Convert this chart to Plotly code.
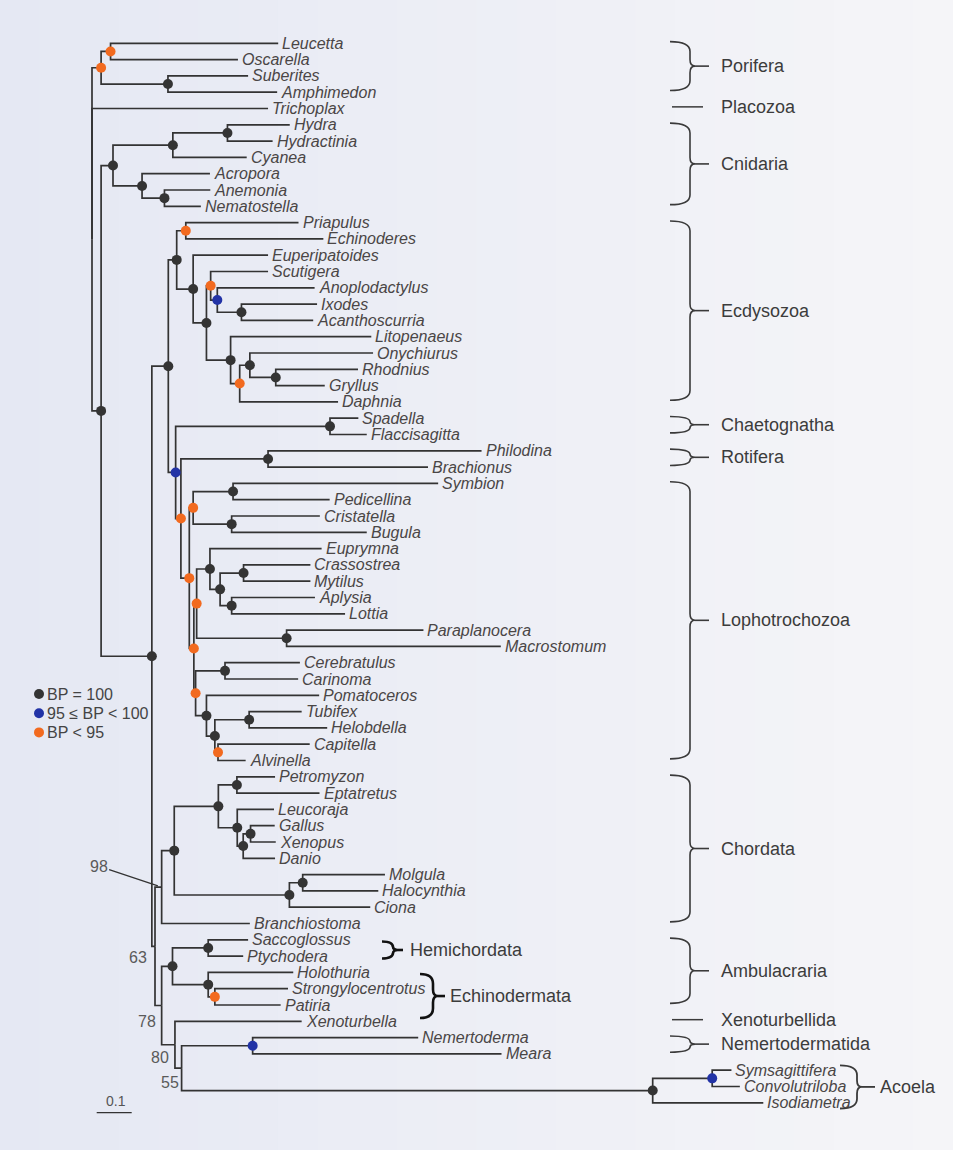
import plotly.graph_objects as go

# ------------------------------------------------------------------ data
# leaves, top to bottom
taxa = ["Leucetta", "Oscarella", "Suberites", "Amphimedon", "Trichoplax",
        "Hydra", "Hydractinia", "Cyanea", "Acropora", "Anemonia", "Nematostella",
        "Priapulus", "Echinoderes", "Euperipatoides", "Scutigera", "Anoplodactylus",
        "Ixodes", "Acanthoscurria", "Litopenaeus", "Onychiurus", "Rhodnius",
        "Gryllus", "Daphnia", "Spadella", "Flaccisagitta", "Philodina",
        "Brachionus", "Symbion", "Pedicellina", "Cristatella", "Bugula",
        "Euprymna", "Crassostrea", "Mytilus", "Aplysia", "Lottia",
        "Paraplanocera", "Macrostomum", "Cerebratulus", "Carinoma", "Pomatoceros",
        "Tubifex", "Helobdella", "Capitella", "Alvinella", "Petromyzon",
        "Eptatretus", "Leucoraja", "Gallus", "Xenopus", "Danio", "Molgula",
        "Halocynthia", "Ciona", "Branchiostoma", "Saccoglossus", "Ptychodera",
        "Holothuria", "Strongylocentrotus", "Patiria", "Xenoturbella",
        "Nemertoderma", "Meara", "Symsagittifera", "Convolutriloba", "Isodiametra"]

taxa_parent = ["LeuOsc", "LeuOsc", "SubAmp", "SubAmp", "root",
               "HydHyd", "HydHyd", "Medus", "Antho", "AneNem", "AneNem",
               "Scalid", "Scalid", "Panart", "MyrChel", "Chelic",
               "Arach", "Arach", "Pancr", "Hexap", "RhoGry",
               "RhoGry", "PancA", "Chaet", "Chaet", "Rotif",
               "Rotif", "SymPed", "SymPed", "Bryoz", "Bryoz",
               "Mollus", "Bival", "Bival", "Gastr", "Gastr",
               "Platy", "Platy", "Nemert", "Nemert", "Annel",
               "Clitel", "Clitel", "CapAlv", "CapAlv", "Cyclo",
               "Cyclo", "Gnath", "GalXen", "GalXen", "Osteo", "MolHal",
               "MolHal", "Tunic", "Chord", "Hemic", "Hemic",
               "Echin", "StrPat", "StrPat", "Xenac",
               "Nemertod", "Nemertod", "SymCon", "SymCon", "Acoela"]

# branch lengths (substitutions per site)
taxa_branch = [0.479, 0.364, 0.229, 0.312, 0.503,
               0.178, 0.129, 0.211, 0.194, 0.131, 0.104,
               0.322, 0.393, 0.214, 0.164, 0.278,
               0.216, 0.205, 0.402, 0.352, 0.235,
               0.140, 0.281, 0.081, 0.105, 0.610,
               0.457, 0.586, 0.276, 0.252, 0.386,
               0.319, 0.191, 0.191, 0.238, 0.324,
               0.391, 0.612, 0.214, 0.209, 0.322,
               0.150, 0.223, 0.262, 0.079, 0.109,
               0.236, 0.105, 0.069, 0.072, 0.091, 0.235,
               0.216, 0.231, 0.252, 0.114, 0.100,
               0.243, 0.209, 0.188, 0.362,
               0.473, 0.711, 0.055, 0.079, 0.316]

# internal nodes
clades = ["root", "Porif", "LeuOsc", "SubAmp", "Eumet", "Cnid", "Medus", "HydHyd",
          "Antho", "AneNem", "Bilat", "Proto", "Ecdys", "Scalid", "Panart", "Arthro",
          "MyrChel", "Chelic", "Arach", "Pancr", "PancA", "Hexap", "RhoGry", "Spiral",
          "Chaet", "Lopho1", "Rotif", "Lopho2", "Polyz", "SymPed", "Bryoz", "Troch",
          "MolPla", "Mollus", "Moll2", "Bival", "Gastr", "Platy", "NemAnn", "Nemert",
          "Annel", "Annel2", "Clitel", "CapAlv", "Deut", "Chord", "Olfac", "Verte",
          "Cyclo", "Gnath", "Osteo", "GalXen", "Tunic", "MolHal", "XenAmb", "Ambul",
          "Hemic", "Echin", "StrPat", "Xenac", "Acoelo", "Nemertod", "Acoela", "SymCon"]

clade_parent = [None, "root", "Porif", "Porif", "root", "Eumet", "Cnid", "Medus",
                "Cnid", "Antho", "Eumet", "Bilat", "Proto", "Ecdys", "Ecdys", "Panart",
                "Arthro", "MyrChel", "Chelic", "Arthro", "Pancr", "PancA", "Hexap", "Proto",
                "Spiral", "Spiral", "Lopho1", "Lopho1", "Lopho2", "Polyz", "Polyz", "Lopho2",
                "Troch", "MolPla", "Mollus", "Moll2", "Moll2", "MolPla", "Troch", "NemAnn",
                "NemAnn", "Annel", "Annel2", "Annel2", "Bilat", "Deut", "Chord", "Olfac",
                "Verte", "Verte", "Gnath", "Osteo", "Olfac", "Tunic", "Deut", "XenAmb",
                "Ambul", "Ambul", "Echin", "XenAmb", "Xenac", "Acoelo", "Acoelo", "Acoela"]

clade_branch = [0.0, 0.026, 0.027, 0.191, 0.026, 0.034, 0.171, 0.156,
                0.083, 0.064, 0.145, 0.047, 0.024, 0.026, 0.047, 0.038,
                0.012, 0.019, 0.069, 0.069, 0.026, 0.029, 0.074, 0.021,
                0.441, 0.015, 0.249, 0.024, 0.011, 0.114, 0.110, 0.013,
                0.008, 0.038, 0.029, 0.067, 0.033, 0.257, 0.005, 0.084,
                0.031, 0.024, 0.098, 0.009, 0.009, 0.019, 0.036, 0.126,
                0.053, 0.054, 0.017, 0.021, 0.329, 0.038, 0.019, 0.031,
                0.102, 0.102, 0.019, 0.038, 0.019, 0.203, 1.346, 0.170]

# bootstrap class of each clade: "100", "95" (95 <= BP < 100), "lt95", "" (no dot)
clade_support = ["", "lt95", "lt95", "100", "100", "100", "100", "100",
                 "100", "100", "100", "100", "100", "lt95", "100", "100",
                 "lt95", "95", "100", "100", "lt95", "100", "100", "95",
                 "100", "lt95", "100", "lt95", "lt95", "100", "100", "lt95",
                 "lt95", "100", "100", "100", "100", "100", "lt95", "100",
                 "100", "100", "100", "lt95", "", "", "100", "100",
                 "100", "100", "100", "100", "100", "100", "", "100",
                 "100", "100", "lt95", "", "", "95", "100", "95"]

# numeric bootstrap values written on some nodes
bp_clades = ["Chord", "Deut", "XenAmb", "Xenac", "Acoelo"]
bp_values = [98, 63, 78, 80, 55]

# clade brackets on the right
groups = ["Porifera", "Placozoa", "Cnidaria", "Ecdysozoa", "Chaetognatha", "Rotifera",
          "Lophotrochozoa", "Chordata", "Ambulacraria", "Xenoturbellida",
          "Nemertodermatida", "Acoela", "Hemichordata", "Echinodermata"]
group_first = ["Leucetta", "Trichoplax", "Hydra", "Priapulus", "Spadella", "Philodina",
               "Symbion", "Petromyzon", "Saccoglossus", "Xenoturbella",
               "Nemertoderma", "Symsagittifera", "Saccoglossus", "Holothuria"]
group_last = ["Amphimedon", "Trichoplax", "Nematostella", "Daphnia", "Flaccisagitta",
              "Brachionus", "Alvinella", "Branchiostoma", "Patiria", "Xenoturbella",
              "Meara", "Isodiametra", "Ptychodera", "Patiria"]

legend_labels = ["BP = 100", "95 \u2264 BP < 100", "BP < 95"]
legend_classes = ["100", "95", "lt95"]
scale_length = 0.1

# ------------------------------------------------------------------ styles
W, H = 953, 1150
X_ROOT_PX, X_PX_PER_UNIT = 92.0, 350.0
Y_FIRST_PX, Y_PX_PER_LEAF = 43.3, 16.3

LINE_COL = "#333333"
DOT_COL = {"100": "#343434", "95": "#2233a6", "lt95": "#f26a1f"}
LABEL_COL = "#4a4646"
GROUP_COL = "#3c3c3c"
FONT = "Liberation Sans, Arial, Helvetica, sans-serif"

# brace style per group: (hook x, spine x, tip x, label x) in px, pads (leaf units), colour, width
MAIN = (670, 690, 709, 719)
brace_style = {g: dict(xs=MAIN, pad=(-0.1, -0.1), col="#3a3a3a", w=1.6) for g in groups}
brace_style["Acoela"] = dict(xs=(840, 857, 875, 878), pad=(-0.3, 0.35), col="#3a3a3a", w=1.8)
brace_style["Hemichordata"] = dict(xs=(382, 393, 403, 408), pad=(0.1, 0.15), col="#111111", w=2.6)
brace_style["Echinodermata"] = dict(xs=(420, 433, 445, 448), pad=(0.1, 0.8), col="#111111", w=2.6)
single_line = {"Placozoa", "Xenoturbellida"}

x_range = [-X_ROOT_PX / X_PX_PER_UNIT, (W - X_ROOT_PX) / X_PX_PER_UNIT]
y_range = [(H - Y_FIRST_PX) / Y_PX_PER_LEAF, -Y_FIRST_PX / Y_PX_PER_LEAF]


def pxx(x):
    return x / W


def pxy(y):
    return 1 - y / H


# ------------------------------------------------------------------ tree layout
parent, blen = {}, {}
for n, p, b in zip(taxa, taxa_parent, taxa_branch):
    parent[n], blen[n] = p, b
for n, p, b in zip(clades, clade_parent, clade_branch):
    parent[n], blen[n] = p, b
children = {}
for n in clades + taxa:
    if parent[n] is not None:
        children.setdefault(parent[n], []).append(n)
leaf_index = {t: i for i, t in enumerate(taxa)}

depth, ypos = {}, {}


def get_depth(n):
    if n not in depth:
        p = parent[n]
        depth[n] = 0.0 if p is None else get_depth(p) + blen[n]
    return depth[n]


def get_y(n):
    if n not in ypos:
        if n in leaf_index:
            ypos[n] = float(leaf_index[n])
        else:
            ys = [get_y(c) for c in children[n]]
            ypos[n] = (min(ys) + max(ys)) / 2
    return ypos[n]


for n in clades + taxa:
    get_depth(n)
    get_y(n)

lx, ly = [], []
for n in clades + taxa:
    p = parent[n]
    if p is None:
        continue
    lx += [depth[p], depth[p], depth[n], None]
    ly += [ypos[p], ypos[n], ypos[n], None]

fig = go.Figure()
fig.add_trace(go.Scatter(x=lx, y=ly, mode="lines",
                         line=dict(color=LINE_COL, width=1.7),
                         hoverinfo="skip", showlegend=False))

for cls in ["100", "95", "lt95"]:
    nodes = [c for c, s in zip(clades, clade_support) if s == cls]
    fig.add_trace(go.Scatter(x=[depth[c] for c in nodes], y=[ypos[c] for c in nodes],
                             mode="markers",
                             marker=dict(size=10, color=DOT_COL[cls], line=dict(width=0)),
                             hoverinfo="skip", showlegend=False))

annotations = []
shapes = []

# scanned-paper background: bluish on the left, whiter to the right
n_strips = 24
c0, c1 = (229, 232, 243), (245, 245, 248)
for k in range(n_strips):
    f = k / (n_strips - 1)
    col = tuple(round(a + (b - a) * f) for a, b in zip(c0, c1))
    shapes.append(dict(type="rect", xref="paper", yref="paper", layer="below",
                       x0=k / n_strips, x1=(k + 1) / n_strips + 0.002, y0=0, y1=1,
                       fillcolor="rgb(%d,%d,%d)" % col, line=dict(width=0)))

# leaf labels
for t in taxa:
    annotations.append(dict(x=depth[t], y=ypos[t], xref="x", yref="y", text=t,
                            showarrow=False, xanchor="left", yanchor="middle", xshift=2,
                            font=dict(family=FONT, size=16, color=LABEL_COL, style="italic")))

# bootstrap numbers
bp_offsets = {"Chord": None, "Deut": (-17, -11), "XenAmb": (-15, -16),
              "Xenac": (-15, -13), "Acoelo": (-12, -14)}
for c, v in zip(bp_clades, bp_values):
    if bp_offsets[c] is None:
        annotations.append(dict(x=depth[c], y=ypos[c], xref="x", yref="y", text=str(v),
                                showarrow=True, arrowhead=0, arrowwidth=1.3,
                                arrowcolor="#333333", ax=-63, ay=-21, standoff=4,
                                font=dict(family=FONT, size=16, color="#5a5a5a")))
    else:
        dx, dy = bp_offsets[c]
        annotations.append(dict(x=depth[c], y=ypos[c], xref="x", yref="y", text=str(v),
                                showarrow=False, xanchor="center", yanchor="middle",
                                xshift=dx, yshift=dy,
                                font=dict(family=FONT, size=16, color="#5a5a5a")))

# brackets
for g, f, l in zip(groups, group_first, group_last):
    st = brace_style[g]
    xl, xs, xt, xlab = st["xs"]
    yt = leaf_index[f] + st["pad"][0]
    yb = leaf_index[l] + st["pad"][1]
    ym = (yt + yb) / 2
    if g in single_line:
        shapes.append(dict(type="line", xref="paper", yref="y", x0=pxx(672), x1=pxx(703),
                           y0=ym, y1=ym, line=dict(color=st["col"], width=1.5)))
    else:
        h = yb - yt
        r = min(0.6, h / 3)
        c = min(0.4, h / 5)
        XL, XS, XT = pxx(xl), pxx(xs), pxx(xt)
        XC = pxx(xs + 5)
        path = (f"M{XL},{yt} Q{XS},{yt} {XS},{yt + r} L{XS},{ym - c} "
                f"Q{XS},{ym} {XC},{ym} Q{XS},{ym} {XS},{ym + c} "
                f"L{XS},{yb - r} Q{XS},{yb} {XL},{yb}")
        shapes.append(dict(type="path", xref="paper", yref="y", path=path,
                           line=dict(color=st["col"], width=st["w"])))
        shapes.append(dict(type="line", xref="paper", yref="y", x0=XC, x1=XT, y0=ym, y1=ym,
                           line=dict(color=st["col"], width=st["w"])))
    annotations.append(dict(x=pxx(xlab), y=ym, xref="paper", yref="y", text=g,
                            showarrow=False, xanchor="left", yanchor="middle",
                            font=dict(family=FONT, size=18, color=GROUP_COL)))

# legend
for k, (lab, cls) in enumerate(zip(legend_labels, legend_classes)):
    yy = 694 + 19.2 * k
    shapes.append(dict(type="circle", xref="paper", yref="paper",
                       xsizemode="pixel", ysizemode="pixel",
                       xanchor=pxx(39), yanchor=pxy(yy), x0=-5, x1=5, y0=-5, y1=5,
                       fillcolor=DOT_COL[cls], line=dict(width=0)))
    annotations.append(dict(x=pxx(45), y=pxy(yy), xref="paper", yref="paper", text=lab,
                            showarrow=False, xanchor="left", yanchor="middle",
                            font=dict(family=FONT, size=16, color="#444444")))

# scale bar
sb0 = 4.7 / X_PX_PER_UNIT
shapes.append(dict(type="line", xref="x", yref="paper", x0=sb0, x1=sb0 + scale_length,
                   y0=pxy(1112.7), y1=pxy(1112.7), line=dict(color="#333333", width=1.3)))
annotations.append(dict(x=sb0 + scale_length / 2 + 2 / X_PX_PER_UNIT, y=pxy(1101), xref="x",
                        yref="paper", text=str(scale_length), showarrow=False,
                        xanchor="center", yanchor="middle",
                        font=dict(family=FONT, size=14, color="#555555")))

fig.update_layout(
    width=W, height=H, autosize=False,
    margin=dict(l=0, r=0, t=0, b=0, pad=0),
    paper_bgcolor="#eff0f5", plot_bgcolor="rgba(0,0,0,0)",
    xaxis=dict(range=x_range, visible=False, fixedrange=True),
    yaxis=dict(range=y_range, visible=False, fixedrange=True),
    showlegend=False,
    annotations=annotations, shapes=shapes,
)

fig.write_html("out.html", config={"displayModeBar": False},
               post_script="document.body.style.margin='0';")
